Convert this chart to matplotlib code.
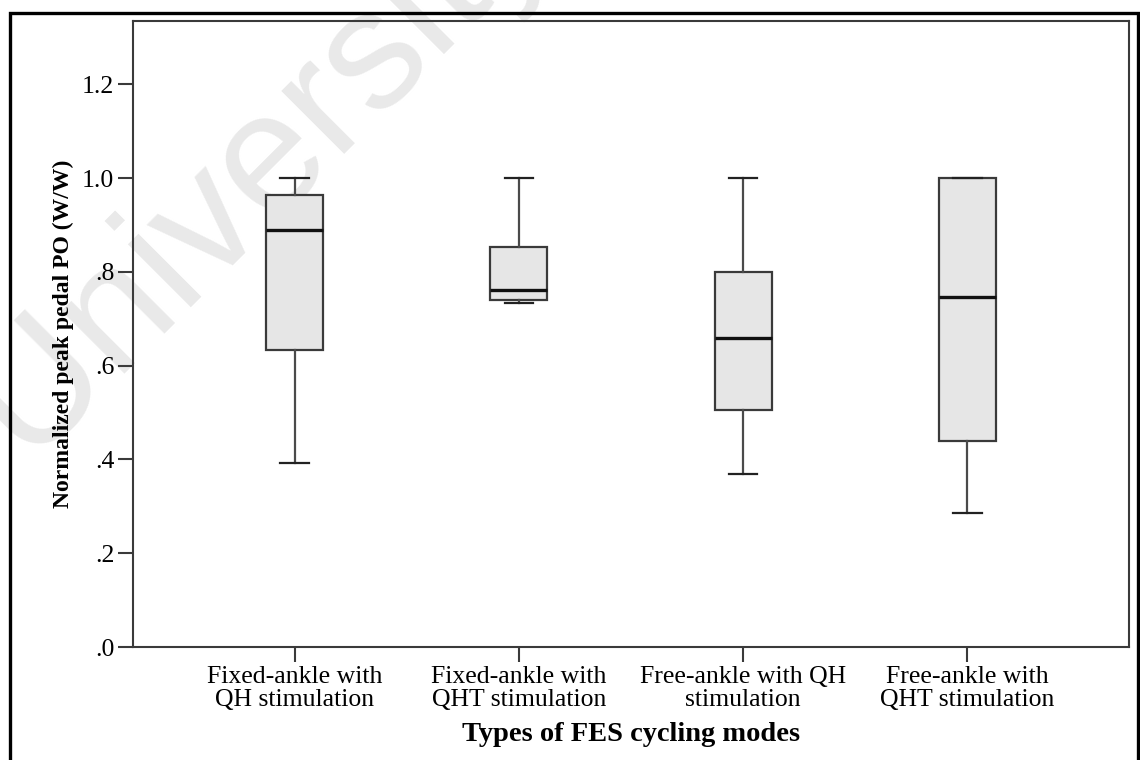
import matplotlib
matplotlib.use("Agg")
import matplotlib.pyplot as plt
from matplotlib.patches import Rectangle

categories = ["Fixed-ankle with\nQH stimulation", "Fixed-ankle with\nQHT stimulation",
              "Free-ankle with QH\nstimulation", "Free-ankle with\nQHT stimulation"]
whisker_low = [0.393, 0.734, 0.369, 0.286]
q1 = [0.633, 0.740, 0.506, 0.440]
median = [0.889, 0.761, 0.660, 0.747]
q3 = [0.964, 0.853, 0.800, 1.000]
whisker_high = [1.000, 1.000, 1.000, 1.000]
yticks = [0.0, 0.2, 0.4, 0.6, 0.8, 1.0, 1.2]
yticklabels = [".0", ".2", ".4", ".6", ".8", "1.0", "1.2"]

plt.rcParams['font.family'] = ['Liberation Serif', 'DejaVu Serif']

fig = plt.figure(figsize=(11.4, 7.6), dpi=100)
W, H = 1140, 760
ax = fig.add_axes([133 / W, 1 - 647 / H, (1129 - 133) / W, (647 - 21) / H])

stats = []
for i in range(len(categories)):
    stats.append(dict(whislo=whisker_low[i], q1=q1[i], med=median[i], q3=q3[i],
                      whishi=whisker_high[i], fliers=[]))

line_col = "#3a3a3a"
ax.bxp(stats, positions=[1, 2, 3, 4], widths=0.255, capwidths=0.125,
       patch_artist=True, showfliers=False,
       boxprops=dict(facecolor="#e6e6e6", edgecolor=line_col, linewidth=1.6),
       whiskerprops=dict(color="#4a4a4a", linewidth=1.6),
       capprops=dict(color="#222222", linewidth=1.6),
       medianprops=dict(color="#111111", linewidth=2.4), zorder=3)

ax.set_xlim(0.28, 4.72)
ax.set_ylim(0, 1.335)
ax.set_yticks(yticks)
ax.set_yticklabels(yticklabels, fontsize=18.5)
ax.set_xticks([1, 2, 3, 4])
ax.set_xticklabels(categories, fontsize=18.5, linespacing=1.05)
ax.tick_params(axis='both', direction='out', length=10.5, width=1.5, color=line_col, pad=3)
for s in ax.spines.values():
    s.set_color(line_col)
    s.set_linewidth(1.5)

ax.set_xlabel("Types of FES cycling modes", fontsize=20.5, fontweight='bold', labelpad=8)
ax.set_ylabel("Normalized peak pedal PO (W/W)", fontsize=17, fontweight='bold', labelpad=6)

# watermark
fig.text(30 / W, 1 - 468 / H, "University of Malaya", rotation=45, rotation_mode='anchor',
         ha='left', va='baseline', fontsize=122, color="#e9e9e9",
         family=['Liberation Sans', 'DejaVu Sans'], zorder=0)
ax.set_zorder(1)
ax.patch.set_alpha(0)

# outer frame
fig.patches.append(Rectangle((10 / W, -0.05), (1138 - 10) / W, 1.05 - 13 / H,
                             transform=fig.transFigure, fill=False, edgecolor='black',
                             linewidth=2.4, zorder=5))

fig.savefig("out.png", dpi=100)
